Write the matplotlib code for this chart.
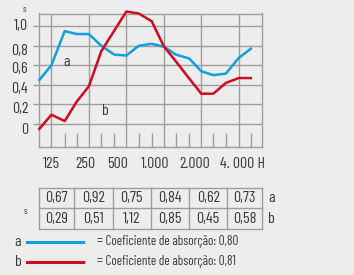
import numpy as np
import matplotlib.pyplot as plt

# third-octave bands
freqs = [100, 125, 160, 200, 250, 315, 400, 500, 630, 800, 1000,
         1250, 1600, 2000, 2500, 3150, 4000, 5000]
curve_a = [0.45, 0.60, 0.95, 0.92, 0.92, 0.80, 0.71, 0.70, 0.80, 0.82,
           0.79, 0.71, 0.67, 0.54, 0.50, 0.515, 0.675, 0.77]
curve_b = [-0.05, 0.095, 0.03, 0.23, 0.385, 0.745, 0.955, 1.15, 1.13, 1.05,
           0.795, 0.64, 0.465, 0.31, 0.31, 0.42, 0.47, 0.47]

octaves = [125, 250, 500, 1000, 2000, 4000]
minor_bands = [160, 200, 315, 400, 630, 800, 1250, 1600, 2500, 3150, 5000]
octave_labels = ['125', '250', '500', '1.000', '2.000']
yvals = [0, 0.2, 0.4, 0.6, 0.8, 1.0]
ylabels = ['0', '0,2', '0,4', '0,6', '0,8', '1,0']

table_a = ['0,67', '0,92', '0,75', '0,84', '0,62', '0,73']
table_b = ['0,29', '0,51', '1,12', '0,85', '0,45', '0,58']

BG = '#ecedec'
GRID = '#9d9d9d'
BLUE = '#10a0de'
RED = '#d20a22'
TXT = '#3a3a3a'
FS = 11.5

plt.rcParams['font.family'] = ['Barlow Condensed', 'DejaVu Sans']

fig = plt.figure(figsize=(3.54, 2.75), dpi=100, facecolor=BG)
W, H = 354, 275

def px(x0, y0, x1, y1):
    return [x0 / W, 1 - y1 / H, (x1 - x0) / W, (y1 - y0) / H]

ax = fig.add_axes(px(39.3, 13.5, 262, 147))
ax.set_facecolor(BG)
ax.set_xscale('log')
ax.set_xlim(100, 6150)
ax.set_ylim(-0.235, 1.13)

for v in yvals:
    ax.axhline(v, color=GRID, lw=1.0, zorder=1)
for f in octaves:
    ax.axvline(f, color=GRID, lw=1.0, zorder=1)
for s in ax.spines.values():
    s.set_color(GRID)
    s.set_linewidth(1.0)

ax.set_xticks(minor_bands, minor=True)
ax.set_xticks([])
ax.tick_params(axis='x', which='minor', direction='in', length=10,
               width=1.0, color=GRID, labelbottom=False)
ax.set_yticks(yvals)
ax.set_yticklabels([])
ax.tick_params(axis='y', length=4.5, width=1.0, color=GRID)

ax.plot(freqs, curve_a, color=BLUE, lw=1.8, zorder=3, clip_on=False)
ax.plot(freqs, curve_b, color=RED, lw=1.8, zorder=3, clip_on=False)

# axis labels (placed like the original, slightly off the grid)
ylab_pos = [-0.058, 0.157, 0.362, 0.567, 0.751, 1.007]
for yp, t in zip(ylab_pos, ylabels):
    ax.text(-0.05, yp, t, transform=ax.get_yaxis_transform(),
            ha='right', va='center', fontsize=FS, color=TXT)
ax.text(-0.065, 1.0, 's', transform=ax.transAxes, ha='center',
        va='bottom', fontsize=7, color=TXT)

xlab_pos = [126, 233, 428, 857, 1770]
for xp, t in zip(xlab_pos, octave_labels):
    ax.text(xp, -0.125, t, transform=ax.get_xaxis_transform(),
            ha='center', va='center', fontsize=FS, color=TXT)
ax.text(2820, -0.125, '4. 000 H', transform=ax.get_xaxis_transform(),
        ha='left', va='center', fontsize=FS, color=TXT)

ax.text(165, 0.63, 'a', fontsize=FS, color=TXT, ha='center', va='center')
ax.text(337, 0.13, 'b', fontsize=FS, color=TXT, ha='center', va='center')

# table
tx = fig.add_axes(px(39, 187.7, 262.3, 229))
tx.set_xlim(39, 262.3)
tx.set_ylim(2, 0)
tx.axis('off')
col_edges = [39, 74, 112.7, 150.7, 189, 227.3, 262.3]
for e in col_edges:
    tx.plot([e, e], [0, 2], color=GRID, lw=1.0, clip_on=False)
for r in [0, 1, 2]:
    tx.plot([39, 262.3], [r, r], color=GRID, lw=1.0, clip_on=False)
for i in range(6):
    cx = (col_edges[i] + col_edges[i + 1]) / 2
    tx.text(cx, 0.5, table_a[i], ha='center', va='center', fontsize=FS, color=TXT)
    tx.text(cx, 1.5, table_b[i], ha='center', va='center', fontsize=FS, color=TXT)
tx.text(271.7, 0.5, 'a', ha='center', va='center', fontsize=FS, color=TXT, clip_on=False)
tx.text(271.7, 1.5, 'b', ha='center', va='center', fontsize=FS, color=TXT, clip_on=False)
fig.text(25 / W, 1 - 211 / H, 's', ha='center', va='center', fontsize=7, color=TXT)

# legend
for yy, name, col, coef in [(241.7, 'a', BLUE, '0,80'), (261.7, 'b', RED, '0,81')]:
    fig.text(18 / W, 1 - yy / H, name, ha='center', va='center', fontsize=FS, color=TXT)
    fig.add_artist(plt.Line2D([26.7 / W, 82.7 / W], [1 - yy / H, 1 - yy / H],
                              color=col, lw=2.2, transform=fig.transFigure))
    fig.text(96.7 / W, 1 - yy / H, '= Coeficiente de absorção: ' + coef,
             ha='left', va='center', fontsize=9.5, color=TXT)

fig.savefig('out.png', dpi=100, facecolor=BG)
